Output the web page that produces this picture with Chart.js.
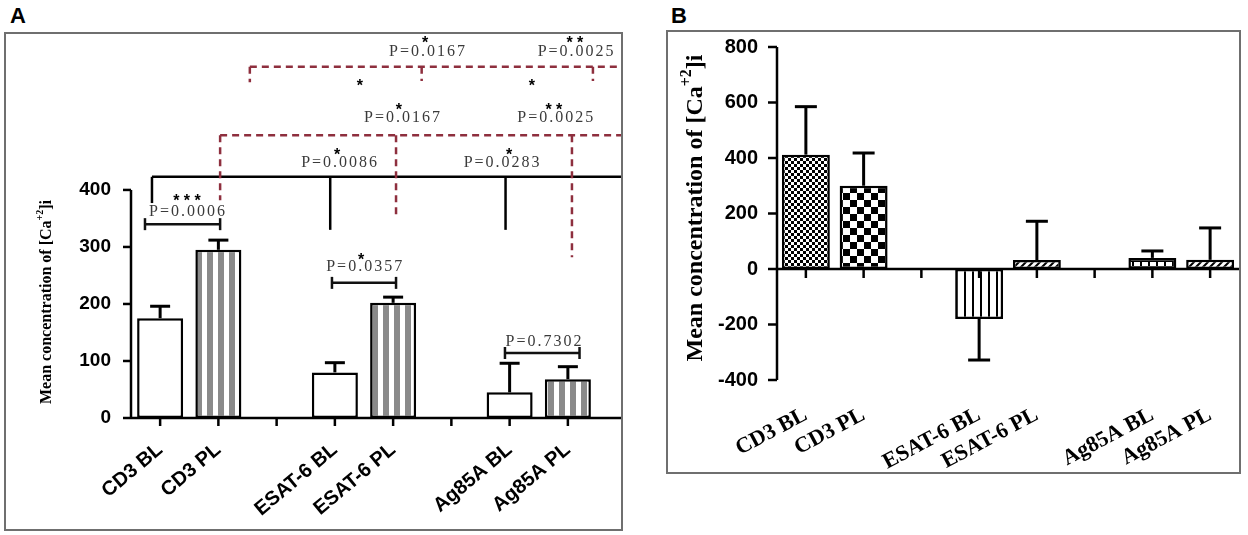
<!DOCTYPE html>
<html>
<head>
<meta charset="utf-8">
<script src="https://cdn.jsdelivr.net/npm/chart.js@4.4.1/dist/chart.umd.min.js"></script>
<style>
  body { margin: 0; background: #fff; width: 1248px; height: 535px; position: relative; overflow: hidden; }
  .tag { position: absolute; top: 3px; font: bold 22px "Liberation Sans", Arial, sans-serif; }
  .box { position: absolute; border: 2px solid #6f6f6f; }
  canvas { display: block; }
</style>
</head>
<body>
<div class="tag" style="left:10px">A</div>
<div class="tag" style="left:671px">B</div>
<div class="box" style="left:4px;top:32px;width:615px;height:495px"><canvas id="chartA" width="615" height="495"></canvas></div>
<div class="box" style="left:666px;top:30px;width:571px;height:440px"><canvas id="chartB" width="571" height="440"></canvas></div>
<script>
// slots with '' are the empty gaps between groups
const categories = ['CD3 BL', 'CD3 PL', '', 'ESAT-6 BL', 'ESAT-6 PL', '', 'Ag85A BL', 'Ag85A PL'];

// panel A: mean and error
const meanA = [175, 295, null, 80, 202, null, 45, 68];
const errA = [21, 17, null, 17, 10, null, 51, 22];
const ticksA = [0, 100, 200, 300, 400];

// panel B
const meanB = [412, 300, null, -180, 32, null, 40, 33];
const errB = [173, 118, null, 148, 140, null, 25, 115];
const ticksB = [-400, -200, 0, 200, 400, 600, 800];

// significance marks for A (x in category units, y in data units)
const solidBracket = { y: 423, from: -0.14, drops: [[-0.14, 377], [2.92, 330], [5.93, 330]] };
const dashLow = { y: 496, from: 1.03, drops: [[1.03, 382], [4.05, 351], [7.07, 282]] };
const dashHigh = { y: 616, from: 1.54, drops: [[1.54, 589], [4.49, 591], [7.43, 591]] };
const pairBrackets = [[-0.26, 1.03, 340], [2.95, 4.05, 237], [5.92, 7.2, 114]];
const pLabels = [
  ['P=0.0006', 0.48, 361], ['P=0.0357', 3.52, 265], ['P=0.7302', 6.6, 133],
  ['P=0.0086', 3.09, 447], ['P=0.0283', 5.88, 447],
  ['P=0.0167', 4.17, 526], ['P=0.0025', 6.8, 526],
  ['P=0.0167', 4.6, 642], ['P=0.0025', 7.15, 642]
];
const stars = [
  ['* * *', 0.46, 386], ['*', 3.45, 283], ['*', 3.04, 467], ['*', 5.99, 467],
  ['*', 4.1, 546], ['* *', 6.76, 546], ['*', 4.55, 663], ['* *', 7.12, 663],
  ['*', 3.43, 589], ['*', 6.38, 588]
];

function makePattern(w, h, draw) {
  const c = document.createElement('canvas');
  c.width = w; c.height = h;
  const g = c.getContext('2d');
  g.fillStyle = '#fff';
  g.fillRect(0, 0, w, h);
  g.fillStyle = '#000';
  g.strokeStyle = '#000';
  draw(g);
  return g.createPattern(c, 'repeat');
}

const grayStripes = makePattern(11, 4, g => { g.fillStyle = '#8a8a8a'; g.fillRect(3, 0, 6, 4); });
const fineCheck = makePattern(6, 6, g => { g.fillRect(0, 0, 3, 3); g.fillRect(3, 3, 3, 3); });
const bigCheck = makePattern(14, 14, g => { g.fillRect(0, 0, 7, 7); g.fillRect(7, 7, 7, 7); });
const vLines = makePattern(8, 4, g => g.fillRect(0, 0, 2, 4));
const hatch = makePattern(7, 7, g => {
  g.lineWidth = 2;
  g.beginPath(); g.moveTo(0, 7); g.lineTo(7, 0); g.moveTo(-1, 1); g.lineTo(1, -1); g.moveTo(6, 8); g.lineTo(8, 6); g.stroke();
});
const brick = makePattern(8, 6, g => { g.fillRect(0, 0, 8, 2); g.fillRect(0, 0, 2, 6); });

const fillsA = ['#fff', grayStripes, null, '#fff', grayStripes, null, '#fff', grayStripes];
const fillsB = [fineCheck, bigCheck, null, vLines, hatch, null, brick, hatch];

function line(ctx, x1, y1, x2, y2) {
  ctx.beginPath(); ctx.moveTo(x1, y1); ctx.lineTo(x2, y2); ctx.stroke();
}

function drawAxes(chart, yTicks, tickLen) {
  const { ctx, scales: { x, y } } = chart;
  ctx.save();
  ctx.strokeStyle = '#000';
  ctx.lineWidth = 2.5;
  const x0 = x.left, y0 = y.getPixelForValue(0);
  line(ctx, x0, y.getPixelForValue(yTicks[yTicks.length - 1]), x0, y.getPixelForValue(yTicks[0]));
  yTicks.forEach(v => line(ctx, x0 - tickLen, y.getPixelForValue(v), x0, y.getPixelForValue(v)));
  line(ctx, x0, y0, chart.width, y0);
  categories.forEach((c, i) => line(ctx, x.getPixelForValue(i), y0, x.getPixelForValue(i), y0 + tickLen));
  ctx.restore();
}

function drawErrors(chart, means, errs, cap) {
  const { ctx, scales: { x, y } } = chart;
  ctx.save();
  ctx.strokeStyle = '#000';
  ctx.lineWidth = 3;
  means.forEach((m, i) => {
    if (m === null) return;
    const dir = m < 0 ? -1 : 1;
    const px = x.getPixelForValue(i);
    const y1 = y.getPixelForValue(m), y2 = y.getPixelForValue(m + dir * errs[i]);
    line(ctx, px, y1, px, y2);
    line(ctx, px - cap / 2, y2, px + cap / 2, y2);
  });
  ctx.restore();
}

function drawTitle(ctx, cx, cy, size) {
  ctx.save();
  ctx.translate(cx, cy);
  ctx.rotate(-Math.PI / 2);
  const main = 'bold ' + size + 'px "Liberation Serif"';
  const sup = 'bold ' + Math.round(size * 0.65) + 'px "Liberation Serif"';
  const a = 'Mean concentration of [Ca', b = '+2', c = ']i';
  ctx.font = main;
  const wa = ctx.measureText(a).width, wc = ctx.measureText(c).width;
  ctx.font = sup;
  const wb = ctx.measureText(b).width;
  let px = -(wa + wb + wc) / 2;
  ctx.textBaseline = 'middle';
  ctx.fillStyle = '#000';
  ctx.font = main; ctx.fillText(a, px, 0); px += wa;
  ctx.font = sup; ctx.fillText(b, px, -size * 0.4); px += wb;
  ctx.font = main; ctx.fillText(c, px, 0);
  ctx.restore();
}

function drawLongBracket(chart, br, color, dash) {
  const { ctx, scales: { x, y } } = chart;
  ctx.save();
  ctx.strokeStyle = color;
  ctx.lineWidth = 2.5;
  ctx.setLineDash(dash);
  const py = y.getPixelForValue(br.y);
  line(ctx, x.getPixelForValue(br.from), py, chart.width, py);
  br.drops.forEach(d => line(ctx, x.getPixelForValue(d[0]), py, x.getPixelForValue(d[0]), y.getPixelForValue(d[1])));
  ctx.restore();
}

const annotationsA = {
  id: 'annotationsA',
  afterDatasetsDraw(chart) {
    const { ctx, scales: { x, y } } = chart;
    drawLongBracket(chart, solidBracket, '#000', []);
    drawLongBracket(chart, dashLow, '#8e2f3e', [7, 5]);
    drawLongBracket(chart, dashHigh, '#8e2f3e', [7, 5]);
    ctx.save();
    ctx.strokeStyle = '#111';
    ctx.lineWidth = 2.5;
    pairBrackets.forEach(b => {
      const x1 = x.getPixelForValue(b[0]), x2 = x.getPixelForValue(b[1]), py = y.getPixelForValue(b[2]);
      line(ctx, x1, py, x2, py);
      line(ctx, x1, py - 6, x1, py + 6);
      line(ctx, x2, py - 6, x2, py + 6);
    });
    ctx.textAlign = 'center';
    ctx.textBaseline = 'middle';
    ctx.fillStyle = '#3a3a3a';
    ctx.font = '16px "Liberation Serif"';
    ctx.letterSpacing = '2px';
    pLabels.forEach(p => ctx.fillText(p[0], x.getPixelForValue(p[1]), y.getPixelForValue(p[2])));
    ctx.letterSpacing = '0px';
    ctx.fillStyle = '#000';
    ctx.font = 'bold 16px "Liberation Sans"';
    stars.forEach(s => ctx.fillText(s[0], x.getPixelForValue(s[1]), y.getPixelForValue(s[2]) + 4));
    ctx.restore();
  }
};

const panelA = {
  id: 'panelA',
  afterDatasetsDraw(chart) {
    drawAxes(chart, ticksA, 8);
    drawErrors(chart, meanA, errA, 20);
    drawTitle(chart.ctx, 41, 268, 16);
  }
};

const panelB = {
  id: 'panelB',
  afterDatasetsDraw(chart) {
    drawAxes(chart, ticksB, 9);
    drawErrors(chart, meanB, errB, 22);
    drawTitle(chart.ctx, 28, 176, 24);
  }
};

function baseOptions(yMin, yMax, yTicks, yWidth, xHeight, pad, xFont, rot, xPad, yFont, yPad) {
  return {
    responsive: false,
    animation: false,
    layout: { autoPadding: false, padding: pad },
    plugins: { legend: { display: false }, tooltip: { enabled: false } },
    scales: {
      x: {
        grid: { display: false },
        border: { display: false },
        ticks: { autoSkip: false, minRotation: rot, maxRotation: rot, padding: xPad, color: '#000', font: xFont },
        afterFit: s => { s.height = xHeight; s.paddingLeft = 0; s.paddingRight = 0; }
      },
      y: {
        min: yMin,
        max: yMax,
        grid: { display: false },
        border: { display: false },
        afterBuildTicks: s => { s.ticks = yTicks.map(v => ({ value: v })); },
        ticks: { padding: yPad, color: '#000', font: yFont },
        afterFit: s => { s.width = yWidth; s.paddingTop = 0; s.paddingBottom = 0; }
      }
    }
  };
}

new Chart(document.getElementById('chartA'), {
  type: 'bar',
  data: {
    labels: categories,
    datasets: [{
      data: meanA,
      backgroundColor: fillsA,
      borderColor: '#000',
      borderWidth: 2.5,
      borderSkipped: false,
      barPercentage: 0.79,
      categoryPercentage: 1
    }]
  },
  options: baseOptions(0, 670, ticksA, 125, 111, { top: 2, right: 24, left: 0, bottom: 0 },
    { family: 'Liberation Sans', weight: 'bold', size: 20 }, 40, 12,
    { family: 'Liberation Sans', weight: 'bold', size: 19 }, 12),
  plugins: [panelA, annotationsA]
});

new Chart(document.getElementById('chartB'), {
  type: 'bar',
  data: {
    labels: categories,
    datasets: [{
      data: meanB,
      backgroundColor: fillsB,
      borderColor: '#000',
      borderWidth: 2.5,
      borderSkipped: false,
      barPercentage: 0.83,
      categoryPercentage: 1
    }]
  },
  options: baseOptions(-400, 800, ticksB, 109, 92, { top: 15, right: 0, left: 0, bottom: 0 },
    { family: 'Liberation Serif', weight: 'bold', size: 22 }, 28, 14,
    { family: 'Liberation Sans', weight: 'bold', size: 20 }, 11),
  plugins: [panelB]
});
</script>
</body>
</html>
